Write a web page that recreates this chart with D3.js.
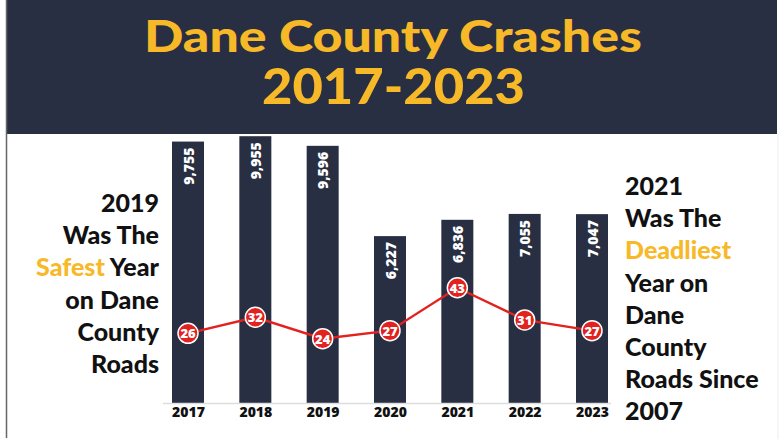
<!DOCTYPE html>
<html><head><meta charset="utf-8">
<script src="https://cdn.jsdelivr.net/npm/d3@7"></script>
<style>
html,body{margin:0;padding:0;background:#fff;}
svg{display:block;}
</style></head>
<body>
<script>
const years = ["2017","2018","2019","2020","2021","2022","2023"];
const crashes = [9755, 9955, 9596, 6227, 6836, 7055, 7047];
const deaths = [26, 32, 24, 27, 43, 31, 27];
const titleLines = ["Dane County Crashes", "2017-2023"];
const leftNote = [["2019"], ["Was The"], ["Safest", " Year"], ["on Dane"], ["County"], ["Roads"]];
const rightNote = [["2021"], ["Was The"], ["Deadliest"], ["Year on"], ["Dane"], ["County"], ["Roads Since"], ["2007"]];

const W = 781, H = 439;
const navy = "#282f43", gold = "#f7b928", red = "#e3211f";
const svg = d3.select("body").append("svg").attr("width", W).attr("height", H);

// frame
svg.append("rect").attr("x", 7).attr("y", 0).attr("width", 770).attr("height", 134).attr("fill", navy);
svg.append("line").attr("x1", 6.5).attr("x2", 6.5).attr("y1", 0).attr("y2", 438).attr("stroke", "#666").attr("stroke-width", 1.5);
svg.append("line").attr("x1", 778).attr("x2", 778).attr("y1", 134).attr("y2", 439).attr("stroke", "#eee").attr("stroke-width", 1);

// title
const titleFont = "Lato, 'Open Sans', sans-serif";
svg.append("text").attr("x", 393).attr("y", 52).attr("text-anchor", "middle")
  .attr("font-family", titleFont).attr("font-weight", 900).attr("font-size", 43)
  .attr("fill", gold).attr("textLength", 498).attr("lengthAdjust", "spacingAndGlyphs")
  .text(titleLines[0]);
svg.append("text").attr("x", 393.5).attr("y", 104).attr("text-anchor", "middle")
  .attr("font-family", titleFont).attr("font-weight", 900).attr("font-size", 50)
  .attr("fill", gold).attr("textLength", 263).attr("lengthAdjust", "spacingAndGlyphs")
  .text(titleLines[1]);

// scales
const x = d3.scalePoint().domain(years).range([188, 592]);
const bw = 32;
const yBar = d3.scaleLinear().domain([0, 10000]).range([403, 135]);
const yLine = d3.scaleLinear().domain([0, 100]).range([403, 135]);

// bars
svg.append("g").selectAll("rect").data(years).join("rect")
  .attr("x", d => x(d) - bw / 2).attr("width", bw)
  .attr("y", (d, i) => yBar(crashes[i])).attr("height", (d, i) => yBar(0) - yBar(crashes[i]))
  .attr("fill", navy);

// bar value labels
svg.append("g").selectAll("text").data(years).join("text")
  .attr("transform", (d, i) => `translate(${x(d)},${yBar(crashes[i]) + 6}) rotate(-90)`)
  .attr("text-anchor", "end").attr("dominant-baseline", "central")
  .attr("font-family", "'Open Sans', sans-serif").attr("font-weight", 800).attr("font-size", 14)
  .attr("fill", "#fff")
  .text((d, i) => d3.format(",")(crashes[i]));

// axis
const axis = svg.append("g").attr("transform", "translate(0,403.5)")
  .call(d3.axisBottom(x).tickSize(0).tickPadding(4));
axis.select(".domain").attr("d", "M163,0H611").attr("stroke", "#ddd").attr("stroke-width", 1.5);
axis.selectAll("text").attr("font-family", "'Open Sans', sans-serif").attr("font-weight", 800)
  .attr("font-size", 14).attr("fill", "#111");

// line
const line = d3.line().x((d, i) => x(years[i])).y(d => yLine(d));
svg.append("path").datum(deaths).attr("d", line).attr("fill", "none")
  .attr("stroke", red).attr("stroke-width", 2.4);
const pts = svg.append("g").selectAll("g").data(deaths).join("g")
  .attr("transform", (d, i) => `translate(${x(years[i])},${yLine(d)})`);
pts.append("circle").attr("r", 10).attr("fill", red).attr("stroke", "#fff").attr("stroke-width", 1.5);
pts.append("text").attr("text-anchor", "middle").attr("dominant-baseline", "central")
  .attr("font-family", "'Open Sans', sans-serif").attr("font-weight", 800).attr("font-size", 13)
  .attr("fill", "#fff").text(d => d);

// side notes
const noteFont = "Lato, 'Open Sans', sans-serif";
function note(lines, xPos, y0, anchor, highlight) {
  const t = svg.append("g");
  lines.forEach((parts, i) => {
    const tx = t.append("text").attr("x", xPos).attr("y", y0 + i * 32.2)
      .attr("text-anchor", anchor).attr("font-family", noteFont).attr("font-weight", 900)
      .attr("font-size", 25).attr("fill", "#111");
    parts.forEach(p => {
      tx.append("tspan").attr("fill", p.trim() === highlight ? gold : "#111").text(p);
    });
  });
}
note(leftNote, 159, 212, "end", "Safest");
note(rightNote, 625, 195, "start", "Deadliest");
</script>
</body></html>
